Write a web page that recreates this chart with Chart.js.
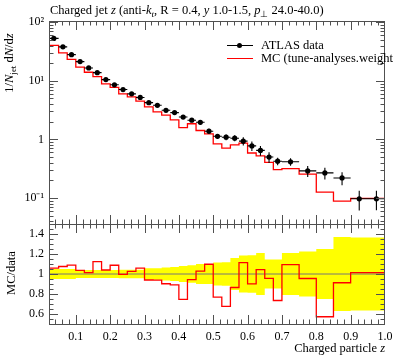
<!DOCTYPE html>
<html><head><meta charset="utf-8">
<script src="https://cdn.jsdelivr.net/npm/chart.js@4.4.0/dist/chart.umd.min.js"></script>
<style>
html,body{margin:0;padding:0;background:#fff;overflow:hidden;}
body{width:397px;height:358px;position:relative;font-family:'Liberation Serif',serif;color:#000;}
canvas{position:absolute;left:0;}
#c1{top:0;}
#c2{top:222px;}
.t{position:absolute;white-space:nowrap;line-height:1;}
.sub{font-size:72%;position:relative;top:0.3em;}
</style></head><body>
<canvas id="c1" width="397" height="226"></canvas>
<canvas id="c2" width="397" height="136"></canvas>
<div class="t" style="left:50px;top:4px;font-size:12.5px">Charged jet <i>z</i> (anti-<i>k</i><span class="sub"><i>t</i></span>, R = 0.4, <i>y</i> 1.0-1.5, <i>p</i><span class="sub">⊥</span> 24.0-40.0)</div>
<div class="t" style="left:9px;top:63px;font-size:12.5px;transform:translate(-50%,-50%) rotate(-90deg);">1/<i>N</i><span class="sub">jet</span> d<i>N</i>/d<i>z</i></div>
<div class="t" style="left:11px;top:273px;font-size:12.5px;transform:translate(-50%,-50%) rotate(-90deg);">MC/data</div>
<div class="t" style="right:12px;top:342px;font-size:12.5px;">Charged particle <i>z</i></div>
<div style="position:absolute;left:227px;top:45px;width:26px;height:1px;background:#000"></div>
<div style="position:absolute;left:237px;top:43px;width:5px;height:5px;border-radius:50%;background:#000"></div>
<div style="position:absolute;left:227px;top:58px;width:26px;height:1px;background:#f00"></div>
<div class="t" style="left:261px;top:39px;font-size:12.5px">ATLAS data</div>
<div class="t" style="left:261px;top:52px;font-size:12.5px">MC (tune-analyses.weight</div>
<script>
// ---- data ----
const binEdges = [0.022,0.05,0.075,0.1,0.125,0.15,0.175,0.2,0.225,0.25,0.275,0.3,0.325,0.35,0.375,0.4,0.425,0.45,0.475,0.5,0.525,0.55,0.575,0.6,0.625,0.65,0.675,0.7,0.75,0.8,0.85,0.9,0.95,1.0];
const dataVals = [53,38,28,21.3,16.6,13.8,10.5,8.55,7.1,6.0,5.2,4.24,3.82,3.14,2.87,2.41,2.13,1.96,1.38,1.13,1.09,1.05,0.935,0.775,0.65,0.50,0.425,0.415,0.29,0.268,0.22,0.097,0.097];
const dataRelErr = [0.056,0.049,0.049,0.049,0.041,0.041,0.041,0.041,0.041,0.042,0.042,0.042,0.057,0.057,0.064,0.071,0.079,0.088,0.10,0.10,0.115,0.118,0.16,0.184,0.187,0.209,0.145,0.145,0.21,0.225,0.25,0.371,0.366];
const mcVals = [53.9,40.2,30.1,23.2,17.2,14.0,11.8,8.89,7.72,5.98,5.34,4.49,3.59,2.95,2.59,2.15,1.59,1.85,1.42,1.24,0.839,0.710,0.809,0.863,0.586,0.522,0.406,0.305,0.317,0.256,0.126,0.0885,0.0983];
const xTicks = [0.1,0.2,0.3,0.4,0.5,0.6,0.7,0.8,0.9,1.0];
const xTickLabels = ['0.1','0.2','0.3','0.4','0.5','0.6','0.7','0.8','0.9','1.0'];
const yTopTicks = [0.1,1,10,100];
const yTopTickLabels = ['10\u207B\u00B9','1','10\u00B9','10\u00B2'];
const ratioTicks = [0.6,0.8,1.0,1.2,1.4];
const ratioTickLabels = ['0.6','0.8','1','1.2','1.4'];

const X_MIN = binEdges[0], X_MAX = binEdges[binEdges.length-1];
const Y_MIN = 0.036, Y_MAX = 105;
const R_MIN = 0.5, R_MAX = 1.5;
const FONT = 'Liberation Serif';

const centers = dataVals.map((_, i) => (binEdges[i] + binEdges[i+1]) / 2);
const stepPts = vals => binEdges.map((e, i) => ({x: e, y: vals[Math.min(i, vals.length-1)]}));
const ratioVals = mcVals.map((m, i) => m / dataVals[i]);
const bandHi = dataRelErr.map(e => 1 + e);
const bandLo = dataRelErr.map(e => 1 - e);

// minor tick positions
const xMinor = []; for (let k = 1; k <= 50; k++) { const v = k * 0.02; if (v >= X_MIN && v <= X_MAX && k % 5) xMinor.push(v); }
const yTopMinor = []; for (let d = -2; d <= 2; d++) for (let m = 2; m <= 9; m++) yTopMinor.push(m * Math.pow(10, d));
const rMinor = []; for (let k = 10; k <= 30; k++) { if (k % 4) rMinor.push(k * 0.05); }

function noPad(s) { s.paddingTop = 0; s.paddingBottom = 0; s.paddingLeft = 0; s.paddingRight = 0; }

function axesPlugin(id, yMajor, yMinor) {
  return { id, afterDraw(chart) {
    const {ctx, chartArea: a, scales: {x, y}} = chart;
    ctx.save();
    ctx.strokeStyle = '#505050'; ctx.lineWidth = 1;
    ctx.beginPath();
    const tickX = (v, len) => { const p = Math.round(x.getPixelForValue(v)) + 0.5; if (p < a.left || p > a.right) return;
      ctx.moveTo(p, a.top); ctx.lineTo(p, a.top + len); ctx.moveTo(p, a.bottom); ctx.lineTo(p, a.bottom - len); };
    const tickY = (v, len) => { const p = Math.round(y.getPixelForValue(v)) + 0.5; if (p < a.top || p > a.bottom) return;
      ctx.moveTo(a.left, p); ctx.lineTo(a.left + len, p); ctx.moveTo(a.right, p); ctx.lineTo(a.right - len, p); };
    xTicks.forEach(v => tickX(v, 9)); xMinor.forEach(v => tickX(v, 4.5));
    yMajor.forEach(v => tickY(v, 9)); yMinor.forEach(v => tickY(v, 4.5));
    ctx.stroke();
    ctx.strokeRect(Math.round(a.left) + 0.5, Math.round(a.top) + 0.5, Math.round(a.right - a.left) - 1, Math.round(a.bottom - a.top));
    ctx.restore();
  }};
}

const errPlugin = { id: 'errbars', beforeDatasetDraw(chart, args) {
  if (args.index !== 1) return;
  const {ctx, scales: {x, y}} = chart;
  ctx.save(); ctx.strokeStyle = '#000'; ctx.lineWidth = 1.1;
  ctx.beginPath();
  dataVals.forEach((v, i) => {
    const py = y.getPixelForValue(v), px = x.getPixelForValue(centers[i]);
    ctx.moveTo(x.getPixelForValue(binEdges[i]), py); ctx.lineTo(x.getPixelForValue(binEdges[i+1]), py);
    ctx.moveTo(px, y.getPixelForValue(v * (1 + dataRelErr[i]))); ctx.lineTo(px, y.getPixelForValue(v * (1 - dataRelErr[i])));
  });
  ctx.stroke(); ctx.restore();
}};

const tickFont = {family: FONT, size: 12};

new Chart(document.getElementById('c1'), {
  type: 'line',
  data: { datasets: [
    { label: 'MC (tune-analyses.weight', data: stepPts(mcVals), stepped: 'after', borderColor: '#ff0000', borderWidth: 1.3, pointRadius: 0, fill: false, order: 1 },
    { label: 'ATLAS data', type: 'scatter', data: centers.map((c, i) => ({x: c, y: dataVals[i]})), pointRadius: 2.6, pointBackgroundColor: '#000', pointBorderWidth: 0, showLine: false, order: 0 }
  ]},
  options: {
    responsive: false, animation: false, events: [],
    layout: {autoPadding: false, padding: {left: 0, right: 12, top: 21, bottom: 2}},
    plugins: {legend: {display: false}, tooltip: {enabled: false}},
    scales: {
      x: {type: 'linear', min: X_MIN, max: X_MAX, display: false},
      y: {type: 'logarithmic', min: Y_MIN, max: Y_MAX,
        grid: {display: false, drawTicks: false}, border: {display: false},
        afterBuildTicks: s => { s.ticks = yTopTicks.map(v => ({value: v, major: true})); },
        afterFit: s => { s.width = 49; noPad(s); },
        ticks: {callback: (v, i) => yTopTickLabels[i], font: tickFont, color: '#000', padding: 5, autoSkip: false}
      }
    }
  },
  plugins: [errPlugin, axesPlugin('ax1', yTopTicks, yTopMinor)]
});

new Chart(document.getElementById('c2'), {
  type: 'line',
  data: { datasets: [
    { label: 'hi', data: stepPts(bandHi), stepped: 'after', borderWidth: 0, pointRadius: 0, fill: false, order: 4 },
    { label: 'lo', data: stepPts(bandLo), stepped: 'after', borderWidth: 0, pointRadius: 0, fill: '-1', backgroundColor: '#ffff00', order: 3 },
    { label: 'one', data: [{x: X_MIN, y: 1}, {x: X_MAX, y: 1}], borderColor: '#777', borderWidth: 1, pointRadius: 0, fill: false, order: 2 },
    { label: 'ratio', data: stepPts(ratioVals), stepped: 'after', borderColor: '#ff0000', borderWidth: 1.3, pointRadius: 0, fill: false, order: 1 }
  ]},
  options: {
    responsive: false, animation: false, events: [],
    layout: {autoPadding: false, padding: {left: 0, right: 12, top: 2, bottom: 0}},
    plugins: {legend: {display: false}, tooltip: {enabled: false}, filler: {propagate: false}},
    scales: {
      x: {type: 'linear', min: X_MIN, max: X_MAX,
        grid: {display: false, drawTicks: false}, border: {display: false},
        afterBuildTicks: s => { s.ticks = xTicks.map(v => ({value: v})); },
        afterFit: s => { s.height = 34; noPad(s); },
        ticks: {callback: (v, i) => xTickLabels[i], font: tickFont, color: '#000', padding: 6, autoSkip: false, maxRotation: 0, minRotation: 0}
      },
      y: {type: 'linear', min: R_MIN, max: R_MAX,
        grid: {display: false, drawTicks: false}, border: {display: false},
        afterBuildTicks: s => { s.ticks = ratioTicks.map(v => ({value: v})); },
        afterFit: s => { s.width = 49; noPad(s); },
        ticks: {callback: (v, i) => ratioTickLabels[i], font: tickFont, color: '#000', padding: 5, autoSkip: false}
      }
    }
  },
  plugins: [axesPlugin('ax2', ratioTicks, rMinor)]
});
</script>
</body></html>
